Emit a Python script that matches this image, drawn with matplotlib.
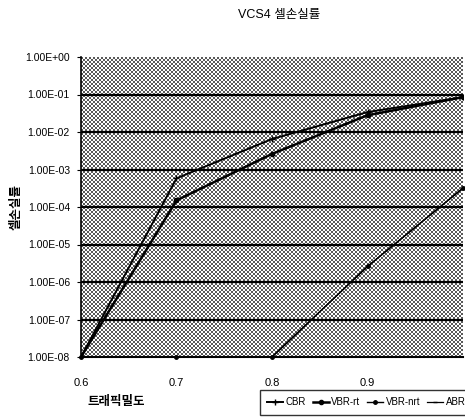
import numpy as np
import matplotlib
matplotlib.use("Agg")
import matplotlib.pyplot as plt

plt.rcParams['font.family'] = ['Liberation Sans', 'Noto Sans CJK KR', 'DejaVu Sans']

title = "VCS4 셀손실률"
xlabel = "트래픽밀도"
ylabel = "셀손실률"

traffic = [0.6, 0.7, 0.8, 0.9, 1.0]
cbr = [1e-8, 5.8e-4, 6.5e-3, 3.4e-2, 8.5e-2]
vbr_rt = [1e-8, 1.5e-4, 2.6e-3, 2.8e-2, 8.5e-2]
vbr_nrt = [1e-8, 1e-8, 1e-8, 2.6e-6, 3.2e-4]
abr = [1e-8, 1e-8, 1e-8, 2.6e-6, 3.2e-4]

xticks = [0.6, 0.7, 0.8, 0.9]
xticklabels = ["0.6", "0.7", "0.8", "0.9"]
yticks = [1e-8, 1e-7, 1e-6, 1e-5, 1e-4, 1e-3, 1e-2, 1e-1, 1e0]
yticklabels = ["1.00E-08", "1.00E-07", "1.00E-06", "1.00E-05", "1.00E-04",
               "1.00E-03", "1.00E-02", "1.00E-01", "1.00E+00"]

W, H = 465, 417
fig = plt.figure(figsize=(W / 100, H / 100), dpi=100)
left, right, top, bottom = 81, 463, 57, 357
ax = fig.add_axes([left / W, 1 - bottom / H, (right - left) / W, (bottom - top) / H])
ax.set_facecolor('none')

# halftone background (checker dots)
ph, pw = bottom - top, right - left
ii, jj = np.mgrid[0:ph, 0:pw]
pat = ((ii // 2) + (jj // 2)) % 2 == 0
img = np.where(pat, 0.35, 1.0)
rgb = np.dstack([img, img, img])
fig.figimage(rgb, xo=left, yo=H - bottom, zorder=-1, origin='upper')

ax.set_yscale('log')
ax.set_xlim(0.6, 1.0)
ax.set_ylim(1e-8, 1e0)

for y in yticks[1:-1]:
    ax.axhline(y, color='black', lw=1.6, zorder=1)

ax.plot(traffic, abr, color='black', lw=0.9, marker='_', ms=3, zorder=3, label='ABR')
ax.plot(traffic, vbr_nrt, color='black', lw=1.0, marker='o', ms=2.5, zorder=5,
        label='VBR-nrt', clip_on=False)
ax.plot(traffic, vbr_rt, color='black', lw=1.8, marker='o', ms=3, zorder=4, label='VBR-rt')
ax.plot(traffic, cbr, color='black', lw=1.4, marker='+', ms=4, zorder=4, label='CBR')

ax.set_xticks(xticks)
ax.set_xticklabels(xticklabels, fontsize=8)
ax.set_yticks(yticks)
ax.set_yticklabels(yticklabels, fontsize=7.5)
ax.yaxis.set_minor_locator(matplotlib.ticker.NullLocator())
ax.tick_params(axis='x', length=0, pad=15)
ax.tick_params(axis='y', length=3, pad=5)
for s in ['top', 'right']:
    ax.spines[s].set_visible(False)
ax.spines['left'].set_linewidth(1.2)
ax.spines['bottom'].set_linewidth(1.5)

fig.text(0.60, 0.963, title, ha='center', va='center', fontsize=9,
         family=['Liberation Sans', 'Noto Sans CJK KR'])
fig.text(0.035, 1 - 207 / H, ylabel, ha='center', va='center', rotation=90,
         fontsize=9, fontweight='bold', family=['Noto Sans CJK KR'])
fig.text(87 / W, 1 - 402 / H, xlabel, ha='left', va='center', fontsize=9,
         fontweight='bold', family=['Noto Sans CJK KR'])

handles, labels = ax.get_legend_handles_labels()
order = [3, 2, 1, 0]
leg = fig.legend([handles[i] for i in order], [labels[i] for i in order],
                 loc='upper left', bbox_to_anchor=(260 / W, 1 - 390 / H),
                 ncol=4, fontsize=7, frameon=True, fancybox=False,
                 edgecolor='black', handlelength=1.6, handletextpad=0.3,
                 columnspacing=0.7, borderpad=0.75, borderaxespad=0)
leg.get_frame().set_linewidth(1.0)

fig.savefig("out.png", dpi=100)
